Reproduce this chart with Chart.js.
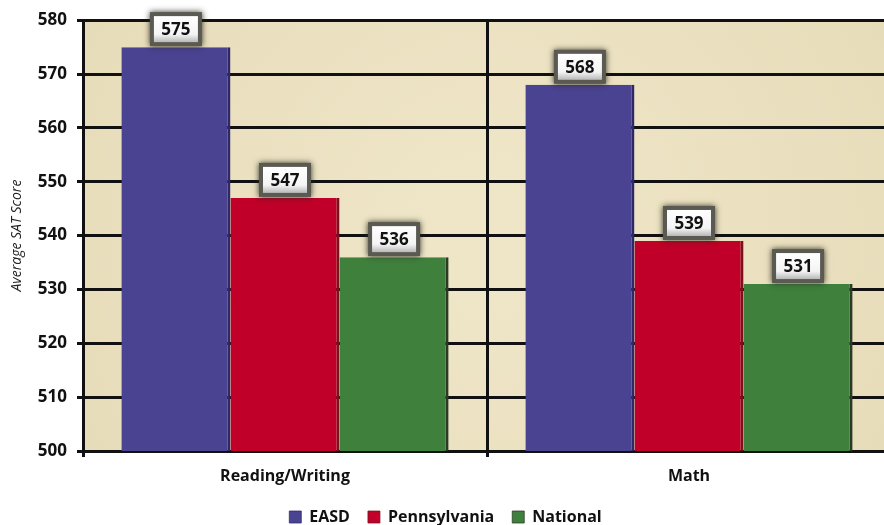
<!DOCTYPE html>
<html>
<head>
<meta charset="utf-8">
<script src="https://cdn.jsdelivr.net/npm/chart.js@4.4.1/dist/chart.umd.min.js"></script>
<style>
  html, body { margin: 0; padding: 0; background: #fff; overflow: hidden; }
  #wrap { width: 891px; height: 525px; position: relative; }
</style>
</head>
<body>
<div id="wrap"><canvas id="myChart"></canvas></div>
<script>
// values
var categories = ['Reading/Writing', 'Math'];
var easd = [575, 568];
var pennsylvania = [547, 539];
var national = [536, 531];
var yTicks = [500, 510, 520, 530, 540, 550, 560, 570, 580];

var FONT = '"Open Sans", "Noto Sans", sans-serif';

// parchment fill behind the bars
var paperBg = {
  id: 'paperBg',
  beforeDraw: function(chart) {
    var a = chart.chartArea, ctx = chart.ctx;
    ctx.save();
    var g = ctx.createRadialGradient((a.left + a.right) / 2, (a.top + a.bottom) / 2, 50,
                                     (a.left + a.right) / 2, (a.top + a.bottom) / 2, 500);
    g.addColorStop(0, '#efe6c8');
    g.addColorStop(1, '#e6dbb8');
    ctx.fillStyle = g;
    ctx.fillRect(a.left, a.top, a.right - a.left, a.bottom - a.top);
    ctx.restore();
  }
};

// white boxes with the value above each bar
var valueBoxes = {
  id: 'valueBoxes',
  afterDatasetsDraw: function(chart) {
    var ctx = chart.ctx;
    chart.data.datasets.forEach(function(ds, i) {
      chart.getDatasetMeta(i).data.forEach(function(bar, j) {
        var w = 44, h = 26;
        var x = bar.x - w / 2, y = bar.y - h - 5;
        ctx.save();
        ctx.shadowColor = 'rgba(40,40,30,0.95)';
        ctx.shadowBlur = 6;
        ctx.fillStyle = '#5a5a52';
        ctx.fillRect(x - 4, y - 4, w + 8, h + 8);
        ctx.shadowBlur = 0;
        var g = ctx.createLinearGradient(0, y, 0, y + h);
        g.addColorStop(0, '#ffffff');
        g.addColorStop(0.7, '#f4f4f4');
        g.addColorStop(1, '#b8b8b8');
        ctx.fillStyle = g;
        ctx.fillRect(x, y, w, h);
        ctx.fillStyle = '#111';
        ctx.font = 'bold 17px ' + FONT;
        ctx.textAlign = 'center';
        ctx.textBaseline = 'middle';
        ctx.fillText(String(ds.data[j]), bar.x, y + h / 2 + 1);
        ctx.restore();
      });
    });
  }
};

var ctx = document.getElementById('myChart').getContext('2d');
window.myBar = new Chart(ctx, {
  type: 'bar',
  data: {
    labels: categories,
    datasets: [
      { label: 'EASD', data: easd, backgroundColor: '#4a4391', borderColor: '#2e2868', borderWidth: { right: 3 } },
      { label: 'Pennsylvania', data: pennsylvania, backgroundColor: '#c00028', borderColor: '#7a1020', borderWidth: { right: 3 } },
      { label: 'National', data: national, backgroundColor: '#3f803d', borderColor: '#2a3a24', borderWidth: { right: 3 } }
    ]
  },
  options: {
    responsive: true,
    maintainAspectRatio: false,
    animation: false,
    layout: { padding: { top: 18, right: 0, bottom: -10, left: 0 } },
    datasets: { bar: { categoryPercentage: 0.81, barPercentage: 1.0 } },
    plugins: {
      legend: {
        position: 'bottom',
        labels: {
          font: { family: FONT, size: 16, weight: 'bold' },
          color: '#111',
          boxWidth: 12,
          boxHeight: 12,
          padding: 18
        }
      },
      tooltip: { enabled: false }
    },
    scales: {
      x: {
        afterFit: function(scale) { scale.height = 40; },
        grid: { color: '#111', lineWidth: 3, tickLength: 6, offset: true },
        border: { color: '#111', width: 3 },
        ticks: { font: { family: FONT, size: 16, weight: 'bold' }, color: '#111', padding: 10 }
      },
      y: {
        min: 500,
        max: 580,
        afterFit: function(scale) { scale.width = 83; },
        afterBuildTicks: function(scale) { scale.ticks = yTicks.map(function(v) { return { value: v }; }); },
        grid: { color: '#111', lineWidth: 3, tickLength: 6 },
        border: { color: '#111', width: 3 },
        ticks: { font: { family: FONT, size: 17, weight: 'bold' }, color: '#111', padding: 10 },
        title: {
          display: true,
          text: 'Average SAT Score',
          font: { family: FONT, size: 14, style: 'italic' },
          color: '#222',
          padding: { top: 9, bottom: 0 }
        }
      }
    }
  },
  plugins: [paperBg, valueBoxes]
});
</script>
</body>
</html>
